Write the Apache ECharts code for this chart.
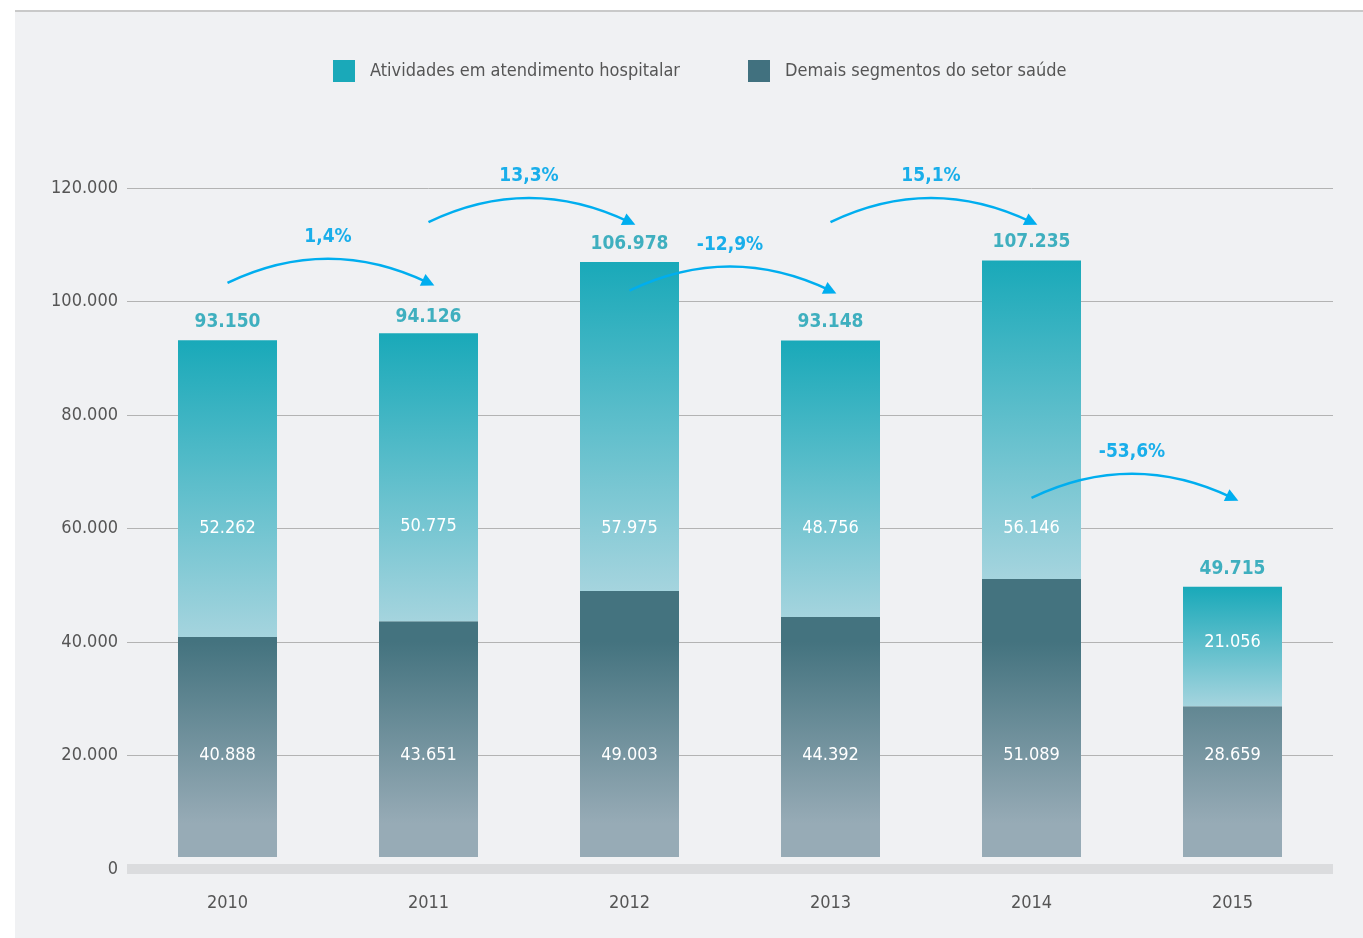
<!DOCTYPE html>
<html>
<head>
<meta charset="utf-8">
<title>Atividades em atendimento hospitalar</title>
<script src="https://cdn.jsdelivr.net/npm/echarts@6/dist/echarts.min.js"></script>
<style>
  body { margin: 0; background: #fff; }
  #panel { position: absolute; left: 15px; top: 10px; width: 1348px; height: 926px; background: #f0f1f3; border-top: 2px solid #c9c9c9; }
  #chart { position: absolute; left: 0; top: 0; width: 1363px; height: 938px; }
</style>
</head>
<body>
<div id="panel"></div>
<div id="chart"></div>
<script>
// dados
var years = ['2010', '2011', '2012', '2013', '2014', '2015'];
var hospital = [52262, 50775, 57975, 48756, 56146, 21056];
var others = [40888, 43651, 49003, 44392, 51089, 28659];
var totals = [93150, 94126, 106978, 93148, 107235, 49715];

// setas de variação
var arrowFrom = [0, 1, 2, 3, 4];
var arrowTo = [1, 2, 3, 4, 5];
var arrowLevel = [103300, 114000, 101900, 114000, 65400];
var growth = ['1,4%', '13,3%', '-12,9%', '15,1%', '-53,6%'];

// altura (em valor) onde ficam os rótulos internos
var upperLabelAt = [60000, 60000, 60000, 60000, 60000, 40000];
var lowerLabelAt = [20000, 20000, 20000, 20000, 20000, 20000];

var FONT = "'Liberation Sans Narrow', 'DejaVu Sans Condensed', sans-serif";
var BG = '#f0f1f3';

function fmt(v) {
  return String(v).replace(/\B(?=(\d{3})+(?!\d))/g, '.');
}

var myChart = echarts.init(document.getElementById('chart'));

var option = {
  animation: false,
  legend: {
    left: 328,
    top: 55,
    itemWidth: 22,
    itemHeight: 22,
    itemGap: 68,
    icon: 'rect',
    textStyle: { fontFamily: FONT, fontSize: 18, color: '#555', padding: [0, 0, 0, 10] },
    data: [
      { name: 'Atividades em atendimento hospitalar', itemStyle: { color: '#1aa9b9' } },
      { name: 'Demais segmentos do setor saúde', itemStyle: { color: '#41717f' } }
    ]
  },
  grid: { left: 127, right: 30, top: 188, bottom: 69 },
  xAxis: [{
    type: 'category',
    data: years,
    z: 4,
    axisLine: { lineStyle: { color: '#dbdcde', width: 10, cap: 'butt' } },
    axisTick: { show: false },
    axisLabel: { margin: 25, fontFamily: FONT, fontSize: 18, color: '#555' }
  }, {
    // faixa da cor do fundo que recorta a base das barras
    type: 'category',
    data: years,
    position: 'bottom',
    z: 3,
    axisLine: { lineStyle: { color: BG, width: 24, cap: 'butt' } },
    axisTick: { show: false },
    axisLabel: { show: false }
  }],
  yAxis: {
    type: 'value',
    min: 0,
    max: 120000,
    interval: 20000,
    axisLine: { show: false },
    axisTick: { show: false },
    splitLine: { lineStyle: { color: '#b3b3b3', width: 1 } },
    axisLabel: { margin: 9, fontFamily: FONT, fontSize: 18, color: '#555', formatter: fmt }
  },
  series: [{
    id: 'lower',
    name: 'Demais segmentos do setor saúde',
    type: 'bar',
    stack: 'total',
    barWidth: 99,
    data: others,
    itemStyle: { color: '#5a8390' },
    label: {
      show: true, position: 'insideBottom', align: 'center', verticalAlign: 'middle',
      color: '#fff', fontFamily: FONT, fontSize: 18, formatter: function (p) { return fmt(p.value); }
    }
  }, {
    id: 'upper',
    name: 'Atividades em atendimento hospitalar',
    type: 'bar',
    stack: 'total',
    barWidth: 99,
    data: hospital,
    itemStyle: {
      color: new echarts.graphic.LinearGradient(0, 0, 0, 1, [
        { offset: 0, color: '#19a9b9' },
        { offset: 1, color: '#a5d4de' }
      ])
    },
    label: {
      show: true, position: 'inside', align: 'center', verticalAlign: 'middle',
      color: '#fff', fontFamily: FONT, fontSize: 18, formatter: function (p) { return fmt(p.value); }
    }
  }, {
    id: 'totals',
    name: 'Total',
    type: 'scatter',
    symbolSize: 1,
    itemStyle: { color: 'rgba(0,0,0,0)' },
    data: totals,
    z: 5,
    label: {
      show: true, position: 'top', distance: 8,
      color: '#139fb1', fontFamily: FONT, fontSize: 19, fontWeight: 'bold',
      formatter: function (p) { return fmt(p.value); }
    }
  }, {
    id: 'arrows',
    type: 'lines',
    coordinateSystem: 'cartesian2d',
    clip: false,
    z: 6,
    symbol: ['none', 'triangle'],
    symbolSize: 13,
    lineStyle: { color: '#00aeef', width: 2.5, curveness: 0.24, opacity: 1 },
    label: {
      show: true, position: 'middle', distance: 12,
      color: '#19aeea', fontFamily: FONT, fontSize: 19, fontWeight: 'bold',
      formatter: function (p) { return p.name; }
    },
    data: arrowFrom.map(function (f, i) {
      return { name: growth[i], coords: [[f, arrowLevel[i]], [arrowTo[i], arrowLevel[i]]] };
    })
  }]
};

myChart.setOption(option);

// posiciona os rótulos internos e o degradê da parte inferior pela escala do eixo
function py(v) {
  return myChart.convertToPixel({ yAxisIndex: 0 }, v);
}

myChart.setOption({
  series: [{
    id: 'lower',
    itemStyle: {
      color: new echarts.graphic.LinearGradient(0, py(40000), 0, py(8000), [
        { offset: 0, color: '#44737f' },
        { offset: 1, color: '#97abb6' }
      ], true)
    },
    data: others.map(function (v, i) {
      return { value: v, label: { position: ['50%', py(lowerLabelAt[i]) - py(v)] } };
    })
  }, {
    id: 'upper',
    data: hospital.map(function (v, i) {
      return { value: v, label: { position: ['50%', py(upperLabelAt[i]) - py(totals[i])] } };
    })
  }]
});
</script>
</body>
</html>
